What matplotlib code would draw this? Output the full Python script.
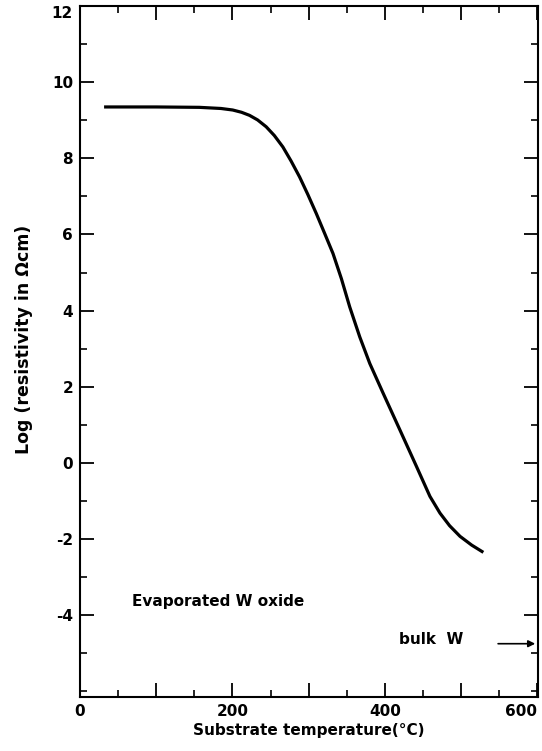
import matplotlib
matplotlib.use("Agg")
import matplotlib.pyplot as plt
from matplotlib.ticker import MultipleLocator

temperature = [31.6, 100, 156.6, 185, 200.4, 212, 222.4, 233, 244.3, 255, 266.2, 277, 288.2,
               299, 310.1, 321, 332.0, 343, 353.9, 367.1, 380.3, 397.8, 419.7, 441.7,
               459.2, 472.4, 485, 498.7, 514, 529.3]
log_resistivity = [9.35, 9.35, 9.34, 9.31, 9.27, 9.21, 9.13, 9.01, 8.83, 8.60, 8.30, 7.93, 7.51,
                   7.05, 6.55, 6.03, 5.50, 4.84, 4.10, 3.31, 2.61, 1.83, 0.87, -0.10,
                   -0.88, -1.32, -1.65, -1.93, -2.16, -2.35]

bulk_w_level = -4.75
x_ticks = [0, 100, 200, 300, 400, 500, 600]
x_ticks_labeled = [0, 200, 400, 600]
y_ticks_labeled = [-4, -2, 0, 2, 4, 6, 8, 10, 12]

plt.rcParams['font.family'] = ['DejaVu Sans']
plt.rcParams['font.weight'] = 'bold'

fig = plt.figure(figsize=(5.42, 7.51), dpi=100)
ax = fig.add_axes([0.1476, 0.0719, 0.845, 0.920])

ax.plot(temperature, log_resistivity, color='black', lw=2.3, solid_capstyle='butt')

ax.set_xlim(0, 601)
ax.set_ylim(-6.15, 12.0)

ax.xaxis.set_minor_locator(MultipleLocator(50))
ax.yaxis.set_minor_locator(MultipleLocator(1))

ax.set_xticks(x_ticks)
ax.set_xticklabels([str(v) if v in x_ticks_labeled else '' for v in x_ticks])
ax.set_yticks(y_ticks_labeled)
ax.set_yticklabels([str(v) for v in y_ticks_labeled])

ax.tick_params(which='major', direction='in', length=10, width=1.3, top=True, right=True,
               labelsize=11, pad=5)
ax.tick_params(which='minor', direction='in', length=5, width=1.2, top=True, right=True)
for lab in ax.get_xticklabels() + ax.get_yticklabels():
    lab.set_fontweight('bold')
ax.get_xticklabels()[-1].set_horizontalalignment('right')
ax.get_yticklabels()[-1].set_verticalalignment('top')

for s in ax.spines.values():
    s.set_linewidth(1.5)

ax.set_xlabel('Substrate temperature(°C)', fontsize=11, fontweight='bold', labelpad=3)
ax.set_ylabel('Log (resistivity in Ωcm)', fontsize=12.5, fontweight='bold')
ax.yaxis.set_label_coords(-0.103, 0.517)

ax.text(68, -3.65, 'Evaporated W oxide', fontsize=11, fontweight='bold', va='center', ha='left')
ax.text(418, -4.65, 'bulk  W', fontsize=11, fontweight='bold', va='center', ha='left')
ax.annotate('', xy=(601, bulk_w_level), xytext=(545, bulk_w_level),
            arrowprops=dict(arrowstyle='-|>', color='black', lw=1.2, mutation_scale=10))

fig.savefig('out.png', dpi=100)
